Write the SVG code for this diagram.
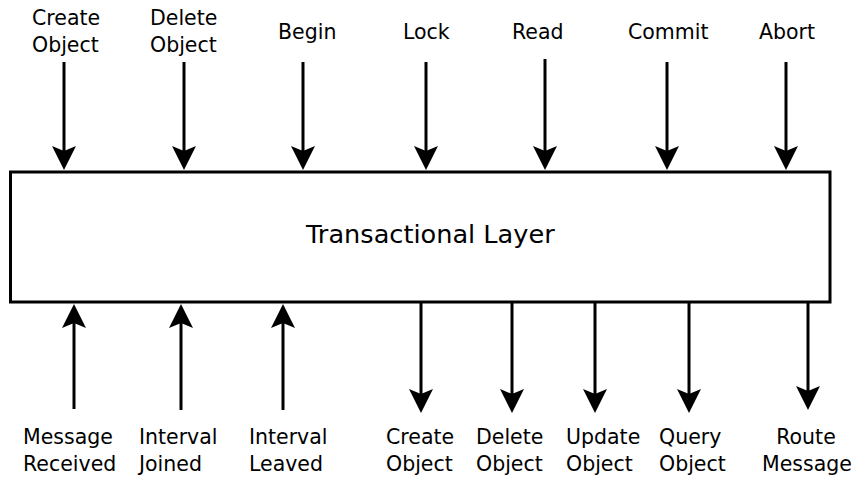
<svg xmlns="http://www.w3.org/2000/svg" width="859" height="478" viewBox="0 0 859 478">
<style>
text{font-family:"DejaVu Sans","Liberation Sans",sans-serif;font-size:20.5px;fill:#000}
.title{font-size:25.6px}
.c{text-anchor:middle}
.conn line{stroke:#000;stroke-width:3;fill:none;marker-end:url(#ah)}
.box{fill:#fff;stroke:#000;stroke-width:3}
</style>
<defs>
<marker id="ah" markerUnits="userSpaceOnUse" markerWidth="26" markerHeight="26" viewBox="0 0 26 26" refX="5" refY="13" orient="auto" overflow="visible">
<path d="M24,13 L0,1 L5,13 L0,25 Z" fill="#000"/>
</marker>
</defs>
<rect width="859" height="478" fill="#fff"/>
<g id="layer">
<rect class="box" x="10.5" y="172" width="819.5" height="130"/>
<text class="title" x="306" y="243">Transactional Layer</text>
</g>
<g id="in-create"><text x="32" y="25">Create</text><text x="32" y="52">Object</text></g>
<g id="in-delete"><text x="150" y="25">Delete</text><text x="150" y="52">Object</text></g>
<g id="in-begin"><text x="278" y="39">Begin</text></g>
<g id="in-lock"><text x="403" y="39">Lock</text></g>
<g id="in-read"><text x="512" y="39">Read</text></g>
<g id="in-commit"><text x="628" y="39">Commit</text></g>
<g id="in-abort"><text x="759" y="39">Abort</text></g>
<g id="ev-msg"><text x="23" y="444">Message</text><text x="23" y="471">Received</text></g>
<g id="ev-joined"><text x="139" y="444">Interval</text><text x="139" y="471">Joined</text></g>
<g id="ev-leaved"><text x="249" y="444">Interval</text><text x="249" y="471">Leaved</text></g>
<g id="out-create"><text x="386" y="444">Create</text><text x="386" y="471">Object</text></g>
<g id="out-delete"><text x="476" y="444">Delete</text><text x="476" y="471">Object</text></g>
<g id="out-update"><text x="566" y="444">Update</text><text x="566" y="471">Object</text></g>
<g id="out-query"><text x="659" y="444">Query</text><text x="659" y="471">Object</text></g>
<g id="out-route"><text class="c" x="806" y="444">Route</text><text class="c" x="807" y="471">Message</text></g>
<g id="connectors" class="conn">
<line x1="64" y1="62" x2="64" y2="151"/>
<line x1="184" y1="62" x2="184" y2="151"/>
<line x1="303" y1="62" x2="303" y2="151"/>
<line x1="426" y1="62" x2="426" y2="151"/>
<line x1="545" y1="59" x2="545" y2="151"/>
<line x1="667" y1="62" x2="667" y2="151"/>
<line x1="786" y1="62" x2="786" y2="151"/>
<line x1="74" y1="409" x2="74" y2="323"/>
<line x1="181" y1="410" x2="181" y2="323"/>
<line x1="283" y1="410" x2="283" y2="323"/>
<line x1="421" y1="302" x2="421" y2="394"/>
<line x1="512" y1="302" x2="512" y2="394"/>
<line x1="595" y1="302" x2="595" y2="394"/>
<line x1="689" y1="302" x2="689" y2="394"/>
<line x1="808" y1="302" x2="808" y2="391"/>
</g>
</svg>
